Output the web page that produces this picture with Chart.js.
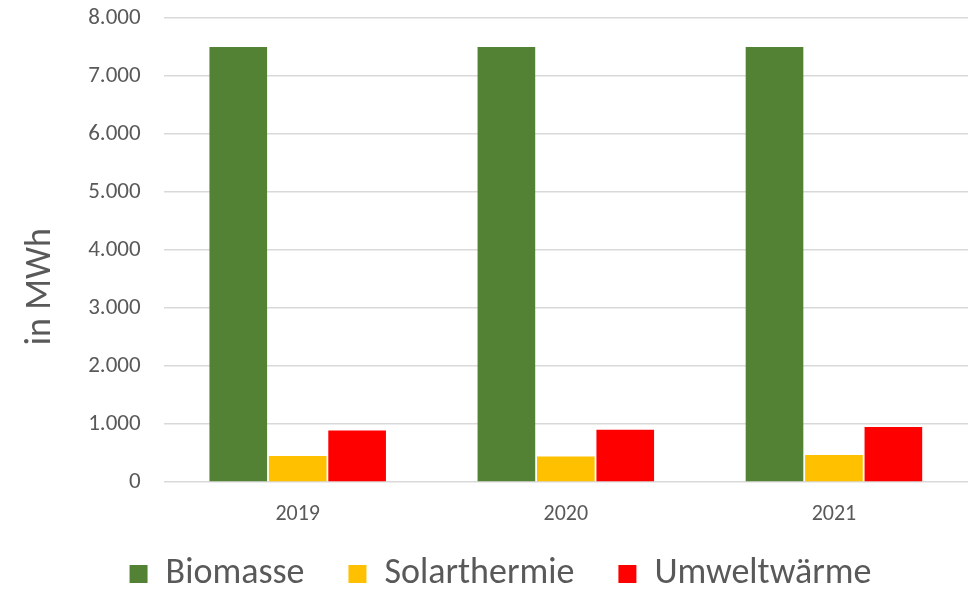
<!DOCTYPE html>
<html>
<head>
<meta charset="utf-8">
<script src="https://cdn.jsdelivr.net/npm/chart.js@4"></script>
<style>
  html, body { margin: 0; padding: 0; background: #fff; }
  #wrap { width: 980px; height: 593px; }
</style>
</head>
<body>
<div id="wrap"><canvas id="chart"></canvas></div>
<script>
// Data
const years = ['2019', '2020', '2021'];
const biomasse = [7500, 7500, 7500];
const solarthermie = [450, 440, 465];
const umweltwaerme = [890, 900, 950];

const fontFamily = 'Carlito, Calibri, "Open Sans", sans-serif';
const textColor = '#595959';

// Legend padding is also the gap between items; keep the wide gaps
// but pull the row up closer to the axis labels
const legendFit = {
    id: 'legendFit',
    beforeInit(chart) {
        const origFit = chart.legend.fit;
        chart.legend.fit = function fit() {
            origFit.bind(chart.legend)();
            this.height -= 25;
        };
    },
    afterLayout(chart) {
        chart.legend.top -= 16;
        chart.legend.left += 9;
        chart.legend.right += 9;
    }
};

function renderChart() {
    const ctx = document.getElementById('chart').getContext('2d');

    new Chart(ctx, {
        type: 'bar',
        data: {
            labels: years,
            datasets: [
                { label: 'Biomasse', data: biomasse, backgroundColor: '#548235' },
                { label: 'Solarthermie', data: solarthermie, backgroundColor: '#FFC000' },
                { label: 'Umweltwärme', data: umweltwaerme, backgroundColor: '#FF0000' }
            ]
        },
        options: {
            responsive: true,
            maintainAspectRatio: false,
            animation: false,
            datasets: {
                bar: {
                    categoryPercentage: 0.665,
                    barPercentage: 0.97
                }
            },
            layout: {
                padding: { top: 18, right: 12, left: 15, bottom: 0 }
            },
            scales: {
                y: {
                    min: 0,
                    max: 8000,
                    border: { display: false },
                    grid: { color: '#d9d9d9', lineWidth: 1.5, drawTicks: false },
                    ticks: {
                        stepSize: 1000,
                        padding: 23,
                        color: textColor,
                        font: { family: fontFamily, size: 23 },
                        callback: v => v.toLocaleString('de-DE')
                    },
                    title: {
                        display: true,
                        // trailing spaces nudge the rotated title down like in the original
                        text: 'in MWh         ',
                        color: textColor,
                        font: { family: fontFamily, size: 36 },
                        padding: { bottom: 3 }
                    },
                    // tick padding would otherwise push the plot down
                    afterFit: scale => { scale.paddingTop = 0; }
                },
                x: {
                    border: { display: false },
                    grid: { display: false, drawTicks: false },
                    ticks: {
                        padding: 19,
                        color: textColor,
                        font: { family: fontFamily, size: 22 }
                    },
                    // padding counts twice in the axis height; only keep it above the labels
                    afterFit: scale => { scale.height = 46; }
                }
            },
            plugins: {
                legend: {
                    position: 'bottom',
                    labels: {
                        boxWidth: 18,
                        boxHeight: 18,
                        padding: 44,
                        color: textColor,
                        font: { family: fontFamily, size: 36 }
                    }
                },
                tooltip: { enabled: false }
            }
        },
        plugins: [legendFit]
    });
}

document.addEventListener('DOMContentLoaded', renderChart);
</script>
</body>
</html>
